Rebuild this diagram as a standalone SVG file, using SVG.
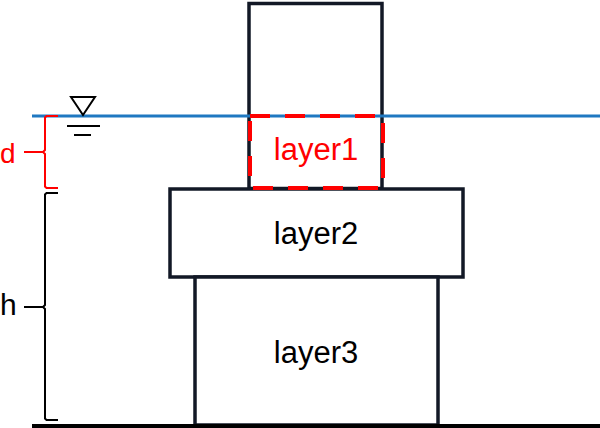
<svg xmlns="http://www.w3.org/2000/svg" width="600" height="428" viewBox="0 0 600 428">
  <style>
    .box { fill: #ffffff; stroke: #121826; stroke-width: 3.5; }
    .lbl { font-family: "Liberation Sans", Arial, sans-serif; font-size: 31px; text-anchor: middle; fill: #000000; }
    .brace { fill: none; stroke-width: 2; stroke-linejoin: miter; }
  </style>
  <rect width="600" height="428" fill="#ffffff"/>
  <g id="tower">
    <rect class="box" x="249" y="3.5" width="133" height="185"/>
  </g>
  <g id="water">
    <line x1="32" y1="116" x2="600" y2="116" stroke="#1f78c1" stroke-width="3"/>
    <polygon points="71,97 95,97 83,115" fill="#ffffff" stroke="#000000" stroke-width="2"/>
    <line x1="67" y1="126" x2="100" y2="126" stroke="#000000" stroke-width="2"/>
    <line x1="74" y1="135" x2="91" y2="135" stroke="#000000" stroke-width="2"/>
  </g>
  <g id="layer2">
    <rect class="box" x="170" y="189" width="293" height="88"/>
    <text class="lbl" x="316" y="244">layer2</text>
  </g>
  <g id="layer3">
    <rect class="box" x="195" y="277" width="243" height="148"/>
    <text class="lbl" x="316" y="363">layer3</text>
  </g>
  <g id="ground">
    <line x1="32" y1="426" x2="600" y2="426" stroke="#000000" stroke-width="4"/>
  </g>
  <g id="layer1">
    <rect x="250" y="116" width="133" height="72" fill="none" stroke="#ff0000" stroke-width="4" stroke-dasharray="20 15"/>
    <text class="lbl" x="316" y="160" style="fill:#ff0000">layer1</text>
  </g>
  <g id="d-brace">
    <path class="brace" stroke="#ff0000" d="M58,116 H46.5 L45,117.5 V150 L43,152 L45,154 V186.5 L46.5,188 H58 M24,152 H43"/>
    <text x="0" y="163" font-family="Liberation Sans, Arial, sans-serif" font-size="28" fill="#ff0000">d</text>
  </g>
  <g id="h-brace">
    <path class="brace" stroke="#000000" d="M58,193 H46.5 L45,194.5 V305 L43,307 L45,309 V418.5 L46.5,420 H58 M24,307 H43"/>
    <text x="0" y="315" font-family="Liberation Sans, Arial, sans-serif" font-size="30" fill="#000000">h</text>
  </g>
</svg>
